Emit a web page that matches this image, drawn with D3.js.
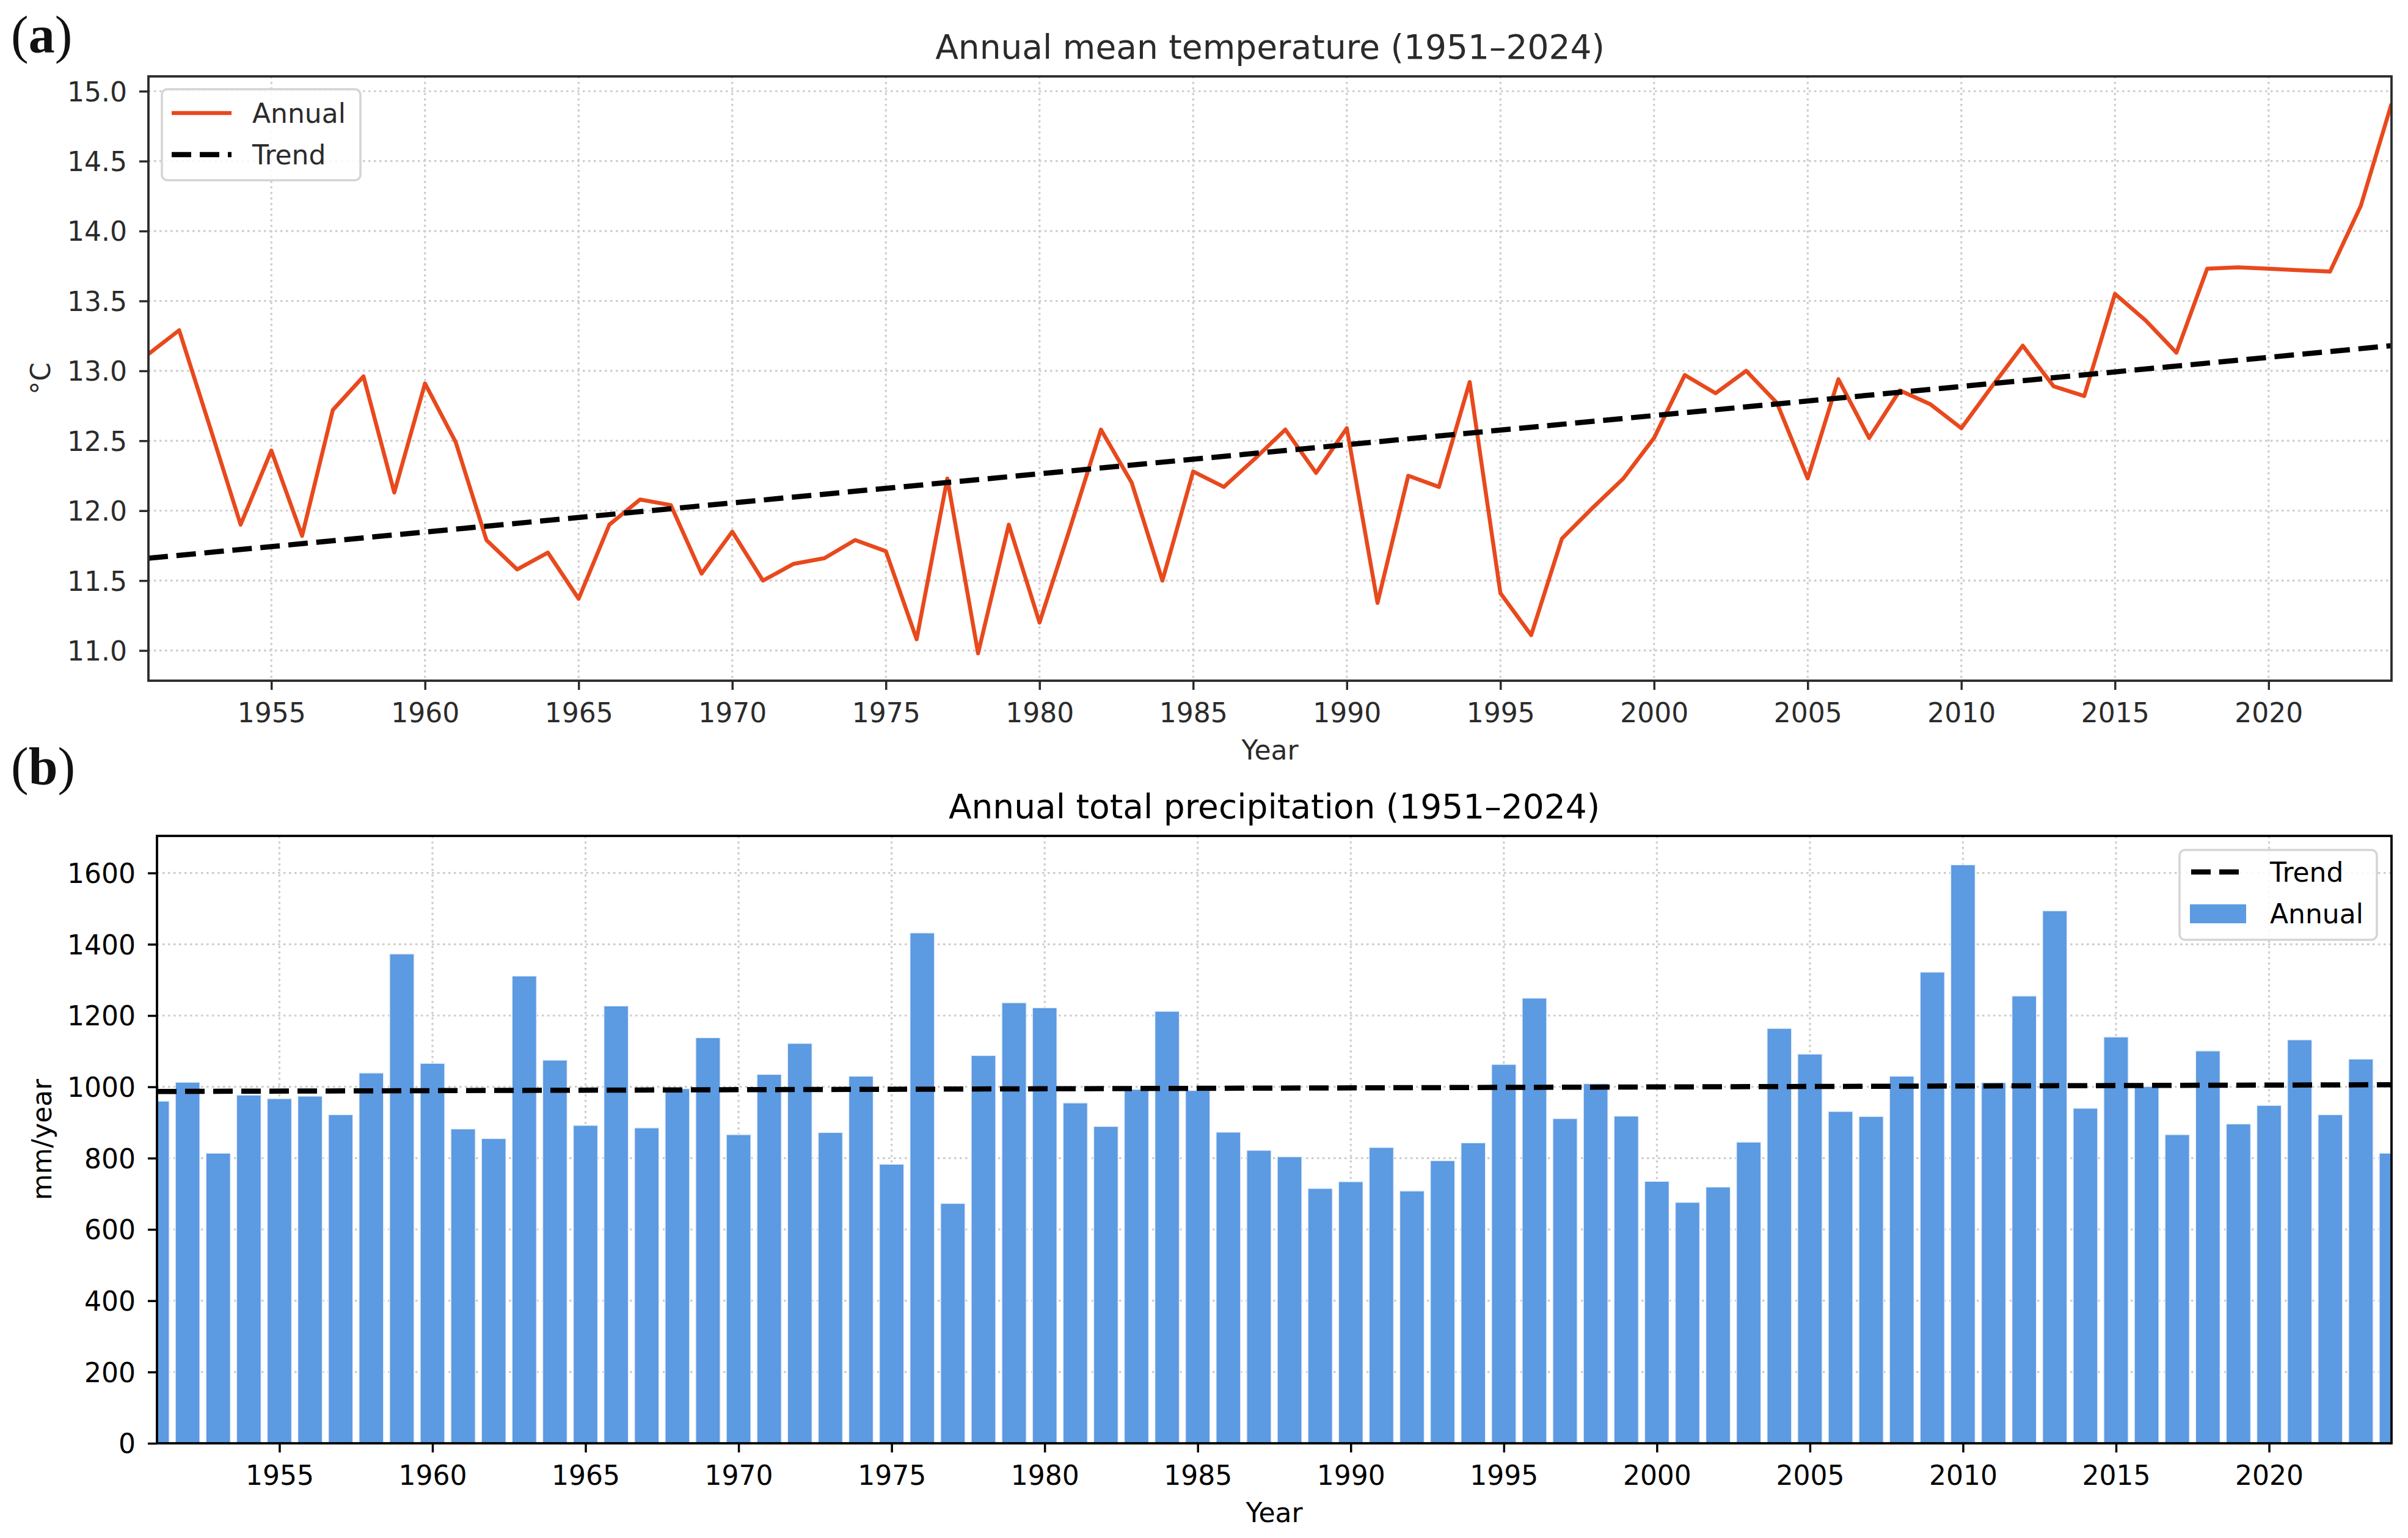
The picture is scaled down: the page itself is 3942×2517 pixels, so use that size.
<!DOCTYPE html>
<html>
<head>
<meta charset="utf-8">
<script src="https://cdn.jsdelivr.net/npm/d3@7"></script>
<style>
  body { margin: 0; background: #fff; }
  svg { display: block; font-family: "DejaVu Sans", sans-serif; }
</style>
</head>
<body>
<svg id="chart" width="3942" height="2517"></svg>
<script>
// years on the x axis
var years = d3.range(1951, 2025);
var yearTicks = [1955, 1960, 1965, 1970, 1975, 1980, 1985, 1990, 1995, 2000, 2005, 2010, 2015, 2020];

// (a) annual mean temperature, degC
var tempAnnual = [
  13.12, 13.29, 12.60, 11.90, 12.43, 11.82, 12.72, 12.96, 12.13, 12.91,
  12.49, 11.79, 11.58, 11.70, 11.37, 11.90, 12.08, 12.04, 11.55, 11.85,
  11.50, 11.62, 11.66, 11.79, 11.71, 11.08, 12.23, 10.98, 11.90, 11.20,
  11.88, 12.58, 12.20, 11.50, 12.28, 12.17, 12.37, 12.58, 12.27, 12.59,
  11.34, 12.25, 12.17, 12.92, 11.41, 11.11, 11.80, 12.02, 12.23, 12.52,
  12.97, 12.84, 13.00, 12.77, 12.23, 12.94, 12.52, 12.86, 12.76, 12.59,
  12.89, 13.18, 12.89, 12.82, 13.55, 13.36, 13.13, 13.73, 13.74, 13.73,
  13.72, 13.71, 14.18, 14.91
];
var tempTrendYears = [1951, 2024];
var tempTrend = [11.66, 13.18];
var tempTicks = [11.0, 11.5, 12.0, 12.5, 13.0, 13.5, 14.0, 14.5, 15.0];

// (b) annual total precipitation, mm/year
var precipAnnual = [
  960, 1013, 814, 977, 967, 974, 922, 1039, 1373, 1066,
  882, 855, 1311, 1075, 892, 1227, 885, 995, 1138, 866,
  1035, 1122, 872, 1030, 783, 1432, 673, 1088, 1236, 1222,
  955, 889, 993, 1212, 990, 873, 822, 804, 715, 734,
  830, 708, 793, 843, 1063, 1249, 911, 1009, 918, 735,
  676, 719, 845, 1164, 1092, 931, 917, 1030, 1322, 1623,
  1012, 1255, 1494, 940, 1140, 1001, 866, 1101, 896, 948,
  1132, 922, 1078, 814
];
var precipTrendYears = [1951, 2024];
var precipTrend = [987, 1006];
var precipTicks = [0, 200, 400, 600, 800, 1000, 1200, 1400, 1600];

var svg = d3.select("#chart");
svg.append("rect").attr("width", 3942).attr("height", 2517).attr("fill", "#fff");

var FONT = 44;
var lineColor = "#e8491d",
    barColor = "#5c9ae1";

// draws frame, grid, ticks, labels for one panel, returns scales + plot group
function makePanel(opt) {
  var x = d3.scaleLinear().domain([1951, 2024]).range([opt.left, opt.right]);
  var y = d3.scaleLinear().domain(opt.ydomain).range([opt.bottom, opt.top]);

  svg.append("clipPath").attr("id", opt.id + "-clip")
    .append("rect")
    .attr("x", opt.left).attr("y", opt.top)
    .attr("width", opt.right - opt.left).attr("height", opt.bottom - opt.top);

  // dotted grid
  var grid = svg.append("g").attr("stroke", "#cdcdcd").attr("stroke-width", 3.2)
    .attr("stroke-dasharray", "3.5,5.5");
  grid.selectAll(".gx").data(yearTicks).enter().append("line")
    .attr("x1", d => x(d)).attr("x2", d => x(d))
    .attr("y1", opt.top).attr("y2", opt.bottom);
  grid.selectAll(".gy").data(opt.yticks).enter().append("line")
    .attr("x1", opt.left).attr("x2", opt.right)
    .attr("y1", d => y(d)).attr("y2", d => y(d));

  var plot = svg.append("g").attr("clip-path", "url(#" + opt.id + "-clip)");

  // axes via d3.axis, then restyled to look like matplotlib
  var xAxis = svg.append("g")
    .attr("transform", "translate(0," + opt.bottom + ")")
    .call(d3.axisBottom(x).tickValues(yearTicks).tickFormat(d3.format("d"))
      .tickSize(15).tickPadding(20));
  var yAxis = svg.append("g")
    .attr("transform", "translate(" + opt.left + ",0)")
    .call(d3.axisLeft(y).tickValues(opt.yticks).tickFormat(opt.yformat)
      .tickSize(15).tickPadding(20));
  [xAxis, yAxis].forEach(function(a) {
    a.select(".domain").remove();
    a.selectAll(".tick line").attr("stroke", opt.ink).attr("stroke-width", 3.5);
    a.selectAll(".tick text").attr("fill", opt.ink)
      .style("font-size", FONT + "px").style("font-family", "DejaVu Sans");
  });
  xAxis.selectAll(".tick text").attr("dy", null).attr("y", 68);
  yAxis.selectAll(".tick text").attr("dy", "0.36em");

  // titles
  var cx = (opt.left + opt.right) / 2;
  svg.append("text").attr("x", cx).attr("y", opt.titleY)
    .attr("text-anchor", "middle").attr("fill", opt.ink)
    .style("font-size", "55px").text(opt.title);
  svg.append("text").attr("x", cx).attr("y", opt.bottom + 129)
    .attr("text-anchor", "middle").attr("fill", opt.ink)
    .style("font-size", FONT + "px").text("Year");
  svg.append("text")
    .attr("transform", "translate(" + (opt.ylabelX) + "," + ((opt.top + opt.bottom) / 2) + ") rotate(-90)")
    .attr("text-anchor", "middle").attr("fill", opt.ink)
    .style("font-size", FONT + "px").text(opt.ylabel);

  // panel letter
  svg.append("text").attr("x", 18).attr("y", opt.letterY)
    .style("font-family", "Liberation Serif, serif").style("font-size", "86px")
    .attr("fill", "#111")
    .html("(<tspan font-weight='bold'>" + opt.letter + "</tspan>)");

  return { x: x, y: y, plot: plot, frame: function() {
    svg.append("rect").attr("x", opt.left).attr("y", opt.top)
      .attr("width", opt.right - opt.left).attr("height", opt.bottom - opt.top)
      .attr("fill", "none").attr("stroke", opt.ink).attr("stroke-width", 3.8);
  }};
}

function legendBox(x0, y0, w, h) {
  svg.append("rect").attr("x", x0).attr("y", y0).attr("width", w).attr("height", h)
    .attr("rx", 9).attr("fill", "#fff").attr("fill-opacity", 0.85)
    .attr("stroke", "#d4d4d4").attr("stroke-width", 3.5);
}

// ---------- (a) temperature ----------
var pa = makePanel({
  id: "pa", letter: "a", letterY: 86,
  left: 243, right: 3915, top: 125, bottom: 1114,
  ydomain: [10.784, 15.106], yticks: tempTicks, yformat: d3.format(".1f"),
  title: "Annual mean temperature (1951\u20132024)", titleY: 96,
  ylabel: "\u00b0C", ylabelX: 82, ink: "#2b2b2b"
});

var tempLine = d3.line().x((d, i) => pa.x(years[i])).y(d => pa.y(d));
pa.plot.append("path").datum(tempAnnual)
  .attr("d", tempLine)
  .attr("fill", "none").attr("stroke", lineColor).attr("stroke-width", 6.5)
  .attr("stroke-linejoin", "round");

pa.plot.append("path").datum(tempTrend)
  .attr("d", d3.line().x((d, i) => pa.x(tempTrendYears[i])).y(d => pa.y(d)))
  .attr("fill", "none").attr("stroke", "#000").attr("stroke-width", 8.5)
  .attr("stroke-dasharray", "32,14");
pa.frame();

legendBox(265, 146, 325, 149);
svg.append("line").attr("x1", 281).attr("x2", 379).attr("y1", 185).attr("y2", 185)
  .attr("stroke", lineColor).attr("stroke-width", 6.5);
svg.append("line").attr("x1", 281).attr("x2", 379).attr("y1", 253).attr("y2", 253)
  .attr("stroke", "#000").attr("stroke-width", 8.5).attr("stroke-dasharray", "32,14");
svg.append("text").attr("x", 413).attr("y", 201).style("font-size", FONT + "px")
  .attr("fill", "#2b2b2b").text("Annual");
svg.append("text").attr("x", 413).attr("y", 269).style("font-size", FONT + "px")
  .attr("fill", "#2b2b2b").text("Trend");

// ---------- (b) precipitation ----------
var pb = makePanel({
  id: "pb", letter: "b", letterY: 1283,
  left: 257, right: 3915, top: 1368, bottom: 2362,
  ydomain: [0, 1704], yticks: precipTicks, yformat: d3.format("d"),
  title: "Annual total precipitation (1951\u20132024)", titleY: 1339,
  ylabel: "mm/year", ylabelX: 84, ink: "#000"
});

var bw = pb.x(1951.8) - pb.x(1951);
pb.plot.selectAll(".bar").data(precipAnnual).enter().append("rect")
  .attr("class", "bar")
  .attr("x", (d, i) => pb.x(years[i]) - bw / 2)
  .attr("width", bw)
  .attr("y", d => pb.y(d))
  .attr("height", d => pb.y(0) - pb.y(d))
  .attr("fill", barColor)
  .attr("stroke", "#e9f1fb").attr("stroke-width", 1.5);

pb.plot.append("path").datum(precipTrend)
  .attr("d", d3.line().x((d, i) => pb.x(precipTrendYears[i])).y(d => pb.y(d)))
  .attr("fill", "none").attr("stroke", "#000").attr("stroke-width", 8.5)
  .attr("stroke-dasharray", "32,14");
pb.frame();

legendBox(3568, 1391, 323, 147);
svg.append("line").attr("x1", 3587).attr("x2", 3670).attr("y1", 1427).attr("y2", 1427)
  .attr("stroke", "#000").attr("stroke-width", 8.5).attr("stroke-dasharray", "32,14");
svg.append("rect").attr("x", 3585).attr("y", 1480).attr("width", 92).attr("height", 31)
  .attr("fill", barColor);
svg.append("text").attr("x", 3716).attr("y", 1443).style("font-size", FONT + "px").text("Trend");
svg.append("text").attr("x", 3716).attr("y", 1511).style("font-size", FONT + "px").text("Annual");
</script>
</body>
</html>
